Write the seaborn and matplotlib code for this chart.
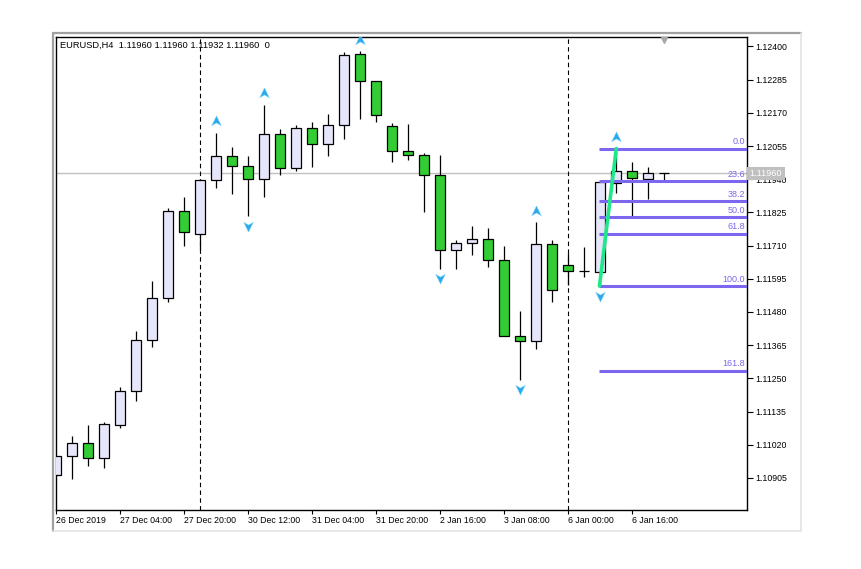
import numpy as np
import pandas as pd
import matplotlib
matplotlib.use("Agg")
import matplotlib.pyplot as plt
import matplotlib.transforms as mtransforms
from matplotlib.path import Path
from matplotlib.lines import Line2D
import seaborn as sns

# ---------------- data ----------------
title_text = "EURUSD,H4  1.11960 1.11960 1.11932 1.11960  0"

opens = [1.10914, 1.10980, 1.11025, 1.10973, 1.11088, 1.11206, 1.11382, 1.11528, 1.11829, 1.11750,
         1.11937, 1.12020, 1.11985, 1.11940, 1.12097, 1.11979, 1.12117, 1.12062, 1.12128, 1.12374,
         1.12280, 1.12124, 1.12037, 1.12024, 1.11954, 1.11694, 1.11719, 1.11732, 1.11660, 1.11396,
         1.11379, 1.11715, 1.11642, 1.11621, 1.11618, 1.11926, 1.11967, 1.11942, 1.11960]
highs = [1.10982, 1.11051, 1.11089, 1.11098, 1.11220, 1.11415, 1.11588, 1.11840, 1.11879, 1.11940,
         1.12101, 1.12052, 1.12021, 1.12198, 1.12115, 1.12129, 1.12138, 1.12166, 1.12381, 1.12384,
         1.12280, 1.12134, 1.12131, 1.12031, 1.12024, 1.11729, 1.11777, 1.11771, 1.11708, 1.11483,
         1.11791, 1.11729, 1.11684, 1.11705, 1.11929, 1.12046, 1.11999, 1.11982, 1.11960]
lows = [1.10912, 1.10900, 1.10948, 1.10941, 1.11079, 1.11173, 1.11360, 1.11513, 1.11707, 1.11695,
        1.11908, 1.11890, 1.11811, 1.11877, 1.11953, 1.11967, 1.11981, 1.12019, 1.12078, 1.12150,
        1.12137, 1.12001, 1.12005, 1.11825, 1.11630, 1.11630, 1.11676, 1.11637, 1.11396, 1.11246,
        1.11351, 1.11516, 1.11573, 1.11601, 1.11570, 1.11892, 1.11812, 1.11873, 1.11932]
closes = [1.10980, 1.11025, 1.10973, 1.11091, 1.11206, 1.11382, 1.11528, 1.11829, 1.11757, 1.11938,
          1.12020, 1.11985, 1.11940, 1.12097, 1.11979, 1.12117, 1.12062, 1.12128, 1.12370, 1.12280,
          1.12162, 1.12037, 1.12024, 1.11954, 1.11694, 1.11719, 1.11732, 1.11660, 1.11396, 1.11379,
          1.11715, 1.11556, 1.11621, 1.11621, 1.11929, 1.11970, 1.11944, 1.11961, 1.11960]

xtick_idx = [0, 4, 8, 12, 16, 20, 24, 28, 32, 36]
xtick_labels = ["26 Dec 2019", "27 Dec 04:00", "27 Dec 20:00", "30 Dec 12:00", "31 Dec 04:00",
                "31 Dec 20:00", "2 Jan 16:00", "3 Jan 08:00", "6 Jan 00:00", "6 Jan 16:00"]
ytick_values = [1.12400, 1.12285, 1.12170, 1.12055, 1.11940, 1.11825, 1.11710,
                1.11595, 1.11480, 1.11365, 1.11250, 1.11135, 1.11020, 1.10905]

separator_idx = [9, 32]
fractal_up_idx = [10, 13, 19, 30, 35]
fractal_down_idx = [12, 24, 29, 34]

current_price = 1.11960
fib_start_idx = 34
fib_end_idx = 35
fib_low = 1.11570
fib_high = 1.12046
fib_ratios = [0.0, 23.6, 38.2, 50.0, 61.8, 100.0, 161.8]

# ---------------- style ----------------
sns.set_style("white")
plt.rcParams['font.family'] = ['Liberation Sans', 'DejaVu Sans']

BULL = "#E6E6FA"
BEAR = "#32CD32"
FIB = "#7B68EE"
TREND = "#1FE88A"
ARROW = "#2BA9EC"

df = pd.DataFrame({"i": np.arange(len(opens)), "open": opens, "high": highs,
                   "low": lows, "close": closes})

W, H = 861, 569
fig = plt.figure(figsize=(W / 100, H / 100), dpi=100)
fig.patch.set_facecolor("white")
ax = fig.add_axes([56 / W, 1 - 510 / H, (747 - 56) / W, (510 - 37) / H])
ax.set_facecolor("white")

# outer window frame
fig.add_artist(Line2D([52.5 / W, 52.5 / W], [1 - 531 / H, 1 - 32.5 / H], color="#A0A0A0", lw=1.6))
fig.add_artist(Line2D([52.5 / W, 801 / W], [1 - 32.5 / H, 1 - 32.5 / H], color="#A0A0A0", lw=1.6))
fig.add_artist(Line2D([800.5 / W, 800.5 / W], [1 - 531 / H, 1 - 32.5 / H], color="#E3E3E3", lw=1.2))
fig.add_artist(Line2D([52.5 / W, 801 / W], [1 - 530.5 / H, 1 - 530.5 / H], color="#E3E3E3", lw=1.2))

# limits
ax.set_xlim(-0.02, 43.17)
ax.set_ylim(1.107941, 1.124326)

# current price line
ax.axhline(current_price, color="#C0C0C0", lw=1.0, zorder=1)

# week separators
for s in separator_idx:
    ax.axvline(s, color="black", lw=0.8, linestyle=(0, (4, 3)), zorder=1)

# wicks
ax.vlines(df["i"], df["low"], df["high"], color="black", lw=0.9, zorder=2)

# bodies
colors = [BULL if c >= o else BEAR for o, c in zip(df["open"], df["close"])]
ax.bar(df["i"], df["close"] - df["open"], bottom=df["open"], width=0.625,
       color=colors, edgecolor="black", linewidth=0.9, zorder=3)

# fibonacci levels
fib_levels = [fib_high - r / 100.0 * (fib_high - fib_low) for r in fib_ratios]
ax.hlines(fib_levels, fib_start_idx - 0.05, 44, color=FIB, lw=2.2, zorder=4)
lab_tr = mtransforms.offset_copy(mtransforms.blended_transform_factory(ax.transAxes, ax.transData),
                                 fig=fig, y=2.5, units="dots")
for r, lv in zip(fib_ratios, fib_levels):
    ax.text(0.997, lv, f"{r:.1f}", transform=lab_tr, ha="right", va="bottom",
            fontsize=6.5, color=FIB, zorder=6)

# trend line
sns.lineplot(x=[fib_start_idx - 0.05, fib_end_idx], y=[fib_low, fib_high], ax=ax,
             color=TREND, lw=2.6, zorder=5)

# fractal arrows
up_path = Path([(0, 1), (0.85, -0.75), (0, -0.25), (-0.85, -0.75), (0, 1)],
               [Path.MOVETO, Path.LINETO, Path.LINETO, Path.LINETO, Path.CLOSEPOLY])
down_path = Path([(0, -1), (0.85, 0.75), (0, 0.25), (-0.85, 0.75), (0, -1)],
                 [Path.MOVETO, Path.LINETO, Path.LINETO, Path.LINETO, Path.CLOSEPOLY])
up_tr = mtransforms.offset_copy(ax.transData, fig=fig, y=11.5, units="dots")
dn_tr = mtransforms.offset_copy(ax.transData, fig=fig, y=-9.5, units="dots")
ax.plot(fractal_up_idx, [highs[i] for i in fractal_up_idx], linestyle="none", marker=up_path,
        ms=8, color=ARROW, mec="#7FD3FA", mew=0.4, transform=up_tr, zorder=7)
ax.plot(fractal_down_idx, [lows[i] for i in fractal_down_idx], linestyle="none", marker=down_path,
        ms=8, color=ARROW, mec="#7FD3FA", mew=0.4, transform=dn_tr, zorder=7)

# chart shift marker
ax.plot([len(opens) - 1], [0.993], marker="v", ms=4.5, color="#A8A8A8",
        transform=mtransforms.blended_transform_factory(ax.transData, ax.transAxes),
        clip_on=False, zorder=8)

# title
ax.text(0.0058, 0.983, title_text, transform=ax.transAxes, ha="left", va="center",
        fontsize=6.7, color="black", zorder=8)

# axes / ticks
for sp in ax.spines.values():
    sp.set_color("black")
    sp.set_linewidth(1.0)
    sp.set_visible(True)

ax.yaxis.tick_right()
ax.set_yticks(ytick_values)
ax.set_yticklabels([f"{v:.5f}" for v in ytick_values])
ax.tick_params(axis="y", which="major", direction="out", length=4, width=0.8, pad=2,
               labelsize=6.3, colors="black", left=False, right=True)
ax.set_xticks(xtick_idx)
ax.set_xticklabels(xtick_labels, ha="left")
ax.tick_params(axis="x", which="major", direction="out", length=3, width=0.8, pad=1.5,
               labelsize=6.3, colors="black", bottom=True)
for lbl in ax.get_xticklabels():
    lbl.set_horizontalalignment("left")
ax.set_xlabel("")
ax.set_ylabel("")
ax.grid(False)

# current price tag (covers the 1.11940 tick label, as in the terminal)
ax.text(1.004, current_price, f"{current_price:.5f}",
        transform=mtransforms.blended_transform_factory(ax.transAxes, ax.transData),
        ha="left", va="center", fontsize=6.6, color="white", clip_on=False, zorder=9,
        bbox=dict(boxstyle="square,pad=0.25", fc="#C0C0C0", ec="none"))

fig.savefig("out.png", dpi=100, facecolor="white")
